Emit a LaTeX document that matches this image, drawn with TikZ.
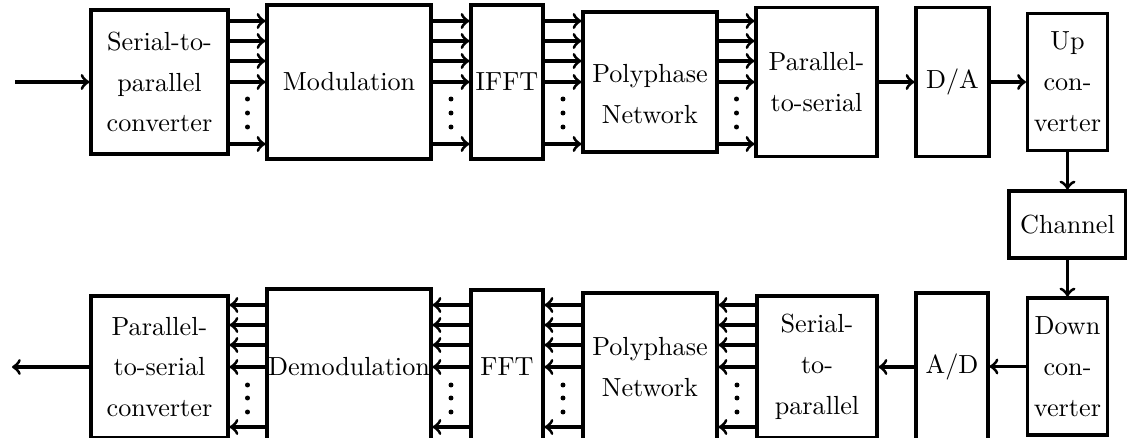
\documentclass[tikz,border=0pt]{standalone}
\usepackage{tikz}
\usetikzlibrary{calc}

\begin{document}
\begin{tikzpicture}[x=0.382pt, y=-0.382pt, line width=1.2pt,
  lbl/.style={align=center, inner sep=0pt, font=\fontsize{10}{15.6}\selectfont},
  box/.style={lbl, draw, rectangle},
  wh/.style 2 args={minimum width=#1*0.382pt, minimum height=#2*0.382pt}]
\useasboundingbox (0,0) rectangle (1127,438);
\clip (0,0) rectangle (1127,438);

\node[box, wh={137}{144}] (s2p) at (159.5,82) {Serial-to-\\parallel\\converter};
\node[box, wh={164}{154}] (mod) at (349,82) {Modulation};
\node[box, wh={72}{154}] (ifft) at (507,82) {IFFT};
\node[box, wh={134}{140}] (poly) at (650,82) {};
\node[lbl] (polytxt) at ([yshift=-4.5pt]poly.center) {Polyphase\\Network};
\node[box, wh={121}{149}] (p2s) at (816.5,82) {Parallel-\\to-serial};
\node[box, wh={73}{149}] (da) at (952.5,82) {D/A};
\node[box, wh={80}{137}] (up) at (1067.5,82) {Up\\con-\\verter};
\node[box, wh={117}{67}] (chan) at (1067.5,224.5) {Channel};
\node[box, wh={80}{137}] (dn) at (1067.5,366.5) {Down\\con-\\verter};
\node[box, wh={72}{148}] (ad) at (952,367) {A/D};
\node[box, wh={120}{142}] (s2pb) at (817,367) {Serial-\\to-\\parallel};
\node[box, wh={134}{148}] (polyb) at (650,367) {Polyphase\\Network};
\node[box, wh={72}{154}] (fft) at (507,367) {FFT};
\node[box, wh={164}{156}] (demod) at (349,367) {Demodulation};
\node[box, wh={137}{142}] (p2sb) at (159.5,367) {Parallel-\\to-serial\\converter};

\coordinate (in) at (15,82);
\coordinate (out) at (12,367);

\draw[->] (in) -- (s2p);
\draw[->] (p2s) -- (da);
\draw[->] (da) -- (up);
\draw[->] (up) -- (chan);
\draw[->] (chan) -- (dn);
\draw[->] (dn.west) -- (ad.east |- dn.west);
\draw[->] (ad) -- (s2pb);
\draw[->] (p2sb) -- (out);

% parallel branches
\foreach \src/\dst in {s2p/mod, mod/ifft, ifft/poly, poly/p2s} {
  \foreach \yy in {21,41,61,82,144}
    \draw[->] (\src.east |- 0,\yy) -- (\dst.west |- 0,\yy);
  \foreach \yy in {99,113,127}
    \fill ($(\src.east |- 0,\yy)!.5!(\dst.west |- 0,\yy)$) circle (0.95pt);
}
\foreach \src/\dst in {s2pb/polyb, polyb/fft, fft/demod, demod/p2sb} {
  \foreach \yy in {305,325,345,367,427}
    \draw[->] (\src.west |- 0,\yy) -- (\dst.east |- 0,\yy);
  \foreach \yy in {385,398,412}
    \fill ($(\src.west |- 0,\yy)!.5!(\dst.east |- 0,\yy)$) circle (0.95pt);
}
\end{tikzpicture}
\end{document}
